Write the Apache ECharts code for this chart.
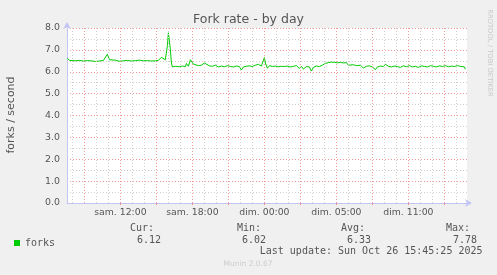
<!DOCTYPE html>
<html>
<head>
<meta charset="utf-8">
<script src="https://cdn.jsdelivr.net/npm/echarts@6/dist/echarts.min.js"></script>
<style>
html,body{margin:0;padding:0;background:#f0f0f0;}
#chart{width:497px;height:275px;}
</style>
</head>
<body>
<div id="chart"></div>
<script>
// time in minutes since "sam. 00:00"
const times = [455,465,475,495,515,535,555,575,595,605,615,635,645,655,665,675,695,715,735,755,775,795,815,835,855,875,895,910,925,935,945,950,955,960,965,970,975,980,995,1015,1030,1045,1050,1060,1070,1075,1085,1095,1110,1125,1140,1150,1165,1180,1195,1210,1225,1240,1255,1270,1285,1300,1315,1325,1335,1350,1365,1380,1395,1410,1425,1435,1440,1445,1455,1465,1480,1495,1510,1525,1540,1555,1570,1585,1600,1615,1625,1635,1650,1665,1675,1685,1700,1715,1730,1745,1760,1775,1790,1805,1820,1835,1850,1860,1870,1885,1900,1910,1920,1935,1950,1965,1980,1995,2005,2020,2035,2045,2060,2075,2090,2105,2120,2135,2150,2165,2180,2195,2210,2225,2240,2255,2270,2285,2300,2315,2330,2345,2360,2375,2390,2405,2420,2430,2440,2445];
const forks = [6.62,6.52,6.48,6.50,6.52,6.49,6.51,6.50,6.47,6.56,6.49,6.52,6.55,6.80,6.55,6.50,6.53,6.48,6.50,6.52,6.49,6.51,6.53,6.50,6.51,6.49,6.50,6.52,6.66,6.58,6.55,6.58,7.20,7.78,7.70,7.00,6.40,6.22,6.25,6.23,6.26,6.24,6.38,6.25,6.55,6.50,6.35,6.32,6.28,6.30,6.40,6.32,6.27,6.25,6.30,6.22,6.26,6.23,6.28,6.24,6.22,6.26,6.24,6.08,6.22,6.25,6.27,6.24,6.30,6.34,6.26,6.30,6.65,6.40,6.16,6.28,6.24,6.26,6.23,6.25,6.24,6.26,6.22,6.25,6.28,6.15,6.25,6.12,6.24,6.22,6.03,6.20,6.26,6.24,6.30,6.38,6.42,6.44,6.43,6.41,6.43,6.40,6.42,6.30,6.25,6.32,6.28,6.36,6.30,6.17,6.25,6.27,6.22,6.10,6.22,6.26,6.24,6.34,6.25,6.22,6.26,6.24,6.20,6.27,6.23,6.28,6.22,6.25,6.20,6.27,6.24,6.22,6.28,6.25,6.22,6.27,6.24,6.28,6.23,6.26,6.24,6.28,6.25,6.27,6.22,6.12];
const tickTimes = [720,1080,1440,1800,2160];
const tickLabels = ['sam. 12:00','sam. 18:00','dim. 00:00','dim. 05:00','dim. 11:00'];
const statLabels = ['Cur:','Min:','Avg:','Max:'];
const statValues = ['6.12','6.02','6.33','7.78'];

const X_MIN = 453, X_MAX = 2453;
const majorX = [], minorX = [];
for (let m = 480; m < X_MAX; m += 60) { if (m % 180 === 0) majorX.push(m); else minorX.push(m); }

const RED = 'rgba(235,120,120,0.75)';
const GRAY = '#cfcfcf';
const AXIS = '#c4c4f4';
const TXT = '#555';

const chart = echarts.init(document.getElementById('chart'), null, {renderer:'canvas'});
const labelX = [[272,154,161],[237,261,266],[342,365,371],[447,470,477]];
const graphics = [
  {type:'text', x:248.5, y:19.5, style:{text:'Fork rate - by day', fontFamily:'DejaVu Sans', fontSize:12.5, fill:'#555', textAlign:'center', textVerticalAlign:'middle'}},
  {type:'text', x:11, y:115, rotation:Math.PI/2, style:{text:'forks / second', fontFamily:'DejaVu Sans', fontSize:11, fill:'#555', textAlign:'center', textVerticalAlign:'middle'}},
  {type:'text', x:490, y:53, rotation:-Math.PI/2, style:{text:'RRDTOOL / TOBI OETIKER', fontFamily:'DejaVu Sans', fontSize:6.8, fill:'#c8c8c8', textAlign:'center', textVerticalAlign:'middle'}},
  {type:'text', x:482.5, y:251, style:{text:'Last update: Sun Oct 26 15:45:25 2025', fontFamily:'DejaVu Sans Mono', fontSize:10, fill:'#555', textAlign:'right', textVerticalAlign:'middle'}},
  {type:'text', x:248, y:264, style:{text:'Munin 2.0.67', fontFamily:'DejaVu Sans', fontSize:7.5, fill:'#cccccc', textAlign:'center', textVerticalAlign:'middle'}}
];
statLabels.forEach((s,i)=>{
  graphics.push({type:'text', x:labelX[i][1], y:228, style:{text:s, fontFamily:'DejaVu Sans Mono', fontSize:10, fill:'#555', textAlign:'right', textVerticalAlign:'middle'}});
  graphics.push({type:'text', x:labelX[i][2], y:240, style:{text:statValues[i], fontFamily:'DejaVu Sans Mono', fontSize:10, fill:'#555', textAlign:'right', textVerticalAlign:'middle'}});
});

const gridLines = minorX.map(m=>[{coord:[m,0], lineStyle:{color:GRAY,type:[1,2],width:1}},{coord:[m,8]}])
  .concat(majorX.map(m=>[{coord:[m,0], lineStyle:{color:RED,type:[1,2],width:1}},{coord:[m,8]}]));

const option = {
  animation:false,
  backgroundColor:'#f0f0f0',
  grid:{left:67, top:28, width:400, height:175, containLabel:false, show:true, backgroundColor:'#ffffff', borderWidth:0},
  legend:{show:true, left:9, top:233, icon:'rect', itemWidth:6, itemHeight:6, itemGap:0,
    textStyle:{fontFamily:'DejaVu Sans Mono', fontSize:10, color:'#555', padding:[0,0,0,0]},
    data:[{name:'forks'}]},
  xAxis:{type:'value', min:X_MIN, max:X_MAX,
    axisLine:{show:true, lineStyle:{color:AXIS, width:1}, symbol:['none','arrow'], symbolSize:[6,7], symbolOffset:[0,5]},
    axisTick:{show:true, customValues:tickTimes.concat([900,1260,1620,1980,2340]), length:2, inside:false, lineStyle:{color:RED}},
    splitLine:{show:false},
    axisLabel:{customValues:tickTimes, margin:5, fontFamily:'DejaVu Sans', fontSize:9.3, color:TXT,
      formatter:(v)=>{const i=tickTimes.indexOf(v); return i>=0?tickLabels[i]:'';}}
  },
  yAxis:{type:'value', min:0, max:8, interval:1,
    axisLine:{show:true, lineStyle:{color:AXIS, width:1}, symbol:['none','arrow'], symbolSize:[6,7], symbolOffset:[0,6]},
    axisTick:{show:false},
    axisLabel:{margin:7, fontFamily:'DejaVu Sans', fontSize:9.4, color:TXT, formatter:(v)=>v.toFixed(1)},
    splitLine:{show:true, lineStyle:{color:RED, type:[1,2], width:1}},
    minorTick:{show:false, splitNumber:2},
    minorSplitLine:{show:true, lineStyle:{color:GRAY, type:[1,2], width:1}}
  },
  graphic:graphics,
  series:[
    {name:'grid', type:'line', data:[[X_MIN,0]], z:1, silent:true, symbol:'none', showSymbol:false,
      lineStyle:{opacity:0},
      markLine:{silent:true, symbol:['none','none'], label:{show:false}, animation:false, data: gridLines}},
    {name:'forks', type:'line', z:3, symbol:'none', showSymbol:false, color:'#00cc00',
      lineStyle:{width:1, color:'#00cc00'},
      data: times.map((t,i)=>[t, forks[i]])}
  ]
};
chart.setOption(option);
</script>
</body>
</html>
